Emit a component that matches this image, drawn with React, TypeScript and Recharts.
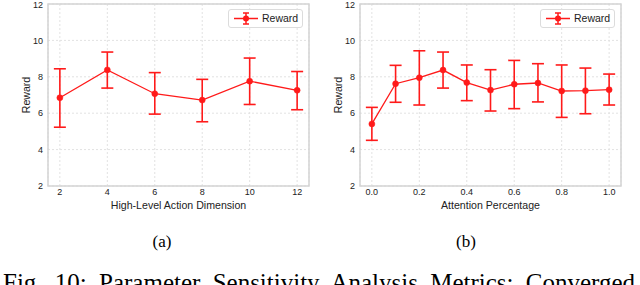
import React from 'react';
import {
  LineChart, Line, XAxis, YAxis, CartesianGrid, ErrorBar, ReferenceArea
} from 'recharts';

// (a) high-level action dimension
const dims = [2, 4, 6, 8, 10, 12];
const dimMean = [6.85, 8.38, 7.07, 6.72, 7.76, 7.26];
const dimLow = [5.23, 7.38, 5.95, 5.53, 6.48, 6.19];
const dimHigh = [8.44, 9.36, 8.23, 7.86, 9.03, 8.29];
const dimTicks = [2, 4, 6, 8, 10, 12];

// (b) attention percentage
const pcts = [0, 0.1, 0.2, 0.3, 0.4, 0.5, 0.6, 0.7, 0.8, 0.9, 1.0];
const pctMean = [5.41, 7.62, 7.95, 8.37, 7.68, 7.27, 7.59, 7.66, 7.22, 7.24, 7.29];
const pctLow = [4.51, 6.6, 6.45, 7.38, 6.69, 6.12, 6.25, 6.62, 5.77, 5.97, 6.45];
const pctHigh = [6.32, 8.63, 9.43, 9.36, 8.65, 8.39, 8.9, 8.72, 8.65, 8.48, 8.15];
const pctTicks = [0, 0.2, 0.4, 0.6, 0.8, 1.0];

const yTicks = [2, 4, 6, 8, 10, 12];

const RED = '#ff1a1a';
const FONT = '"Liberation Sans", Arial, sans-serif';
const SERIF = '"Liberation Serif", "Times New Roman", serif';

const build = (xs: number[], mean: number[], lo: number[], hi: number[]) =>
  xs.map((x, i) => ({ x, y: mean[i], err: [mean[i] - lo[i], hi[i] - mean[i]] }));

const LegendBox = ({ left, top }: { left: number; top: number }) => (
  <div style={{
    position: 'absolute', left, top, width: 73, height: 17,
    border: '1px solid #dcdcdc', borderRadius: 3, background: '#fff',
    fontFamily: FONT, fontSize: 10.5, color: '#222',
  }}>
    <svg width={26} height={17} style={{ position: 'absolute', left: 4, top: 0 }}>
      <line x1={1} y1={8.5} x2={25} y2={8.5} stroke={RED} strokeWidth={1.5} />
      <line x1={13} y1={3} x2={13} y2={14} stroke={RED} strokeWidth={1.5} />
      <line x1={10} y1={3} x2={16} y2={3} stroke={RED} strokeWidth={1.5} />
      <line x1={10} y1={14} x2={16} y2={14} stroke={RED} strokeWidth={1.5} />
      <circle cx={13} cy={8.5} r={3} fill={RED} />
    </svg>
    <span style={{ position: 'absolute', left: 33, top: 2 }}>Reward</span>
  </div>
);

interface PanelProps {
  data: { x: number; y: number; err: number[] }[];
  ticks: number[];
  domain: [number, number];
  xLabel: string;
  fmt: (v: number) => string;
  width: number;
  yAxisWidth: number;
  right: number;
}

const Panel = ({ data, ticks, domain, xLabel, fmt, width, yAxisWidth, right }: PanelProps) => (
  <LineChart width={width} height={212} data={data} margin={{ top: 4, right, left: 0, bottom: 0 }}>
    <CartesianGrid strokeDasharray="2 2" stroke="#e2e2e2" />
    <ReferenceArea x1={domain[0]} x2={domain[1]} y1={2} y2={12} fill="none"
      stroke="#d4d4d4" strokeWidth={1.5} ifOverflow="visible" />
    <XAxis
      dataKey="x" type="number" domain={domain} ticks={ticks} tickFormatter={fmt}
      axisLine={false} tickLine={false} tickSize={3} tickMargin={0} height={26}
      tick={{ fill: '#222', fontSize: 9, fontFamily: FONT }}
      label={{ value: xLabel, position: 'insideBottom', offset: 3, fill: '#222', fontSize: 10.6, fontFamily: FONT }}
    />
    <YAxis
      type="number" domain={[2, 12]} ticks={yTicks} width={yAxisWidth}
      axisLine={false} tickLine={false} tickSize={5} tickMargin={0}
      tick={{ fill: '#222', fontSize: 9, fontFamily: FONT }}
      label={{ value: 'Reward', angle: -90, position: 'center', dx: yAxisWidth === 48 ? 2 : 3, fill: '#222', fontSize: 10.6, fontFamily: FONT }}
    />
    <Line dataKey="y" stroke={RED} strokeWidth={1.3} isAnimationActive={false}
      dot={{ r: 3, fill: RED, stroke: RED, strokeWidth: 0.5 }}>
      <ErrorBar dataKey="err" direction="y" width={6} stroke={RED} strokeWidth={1.6} />
    </Line>
  </LineChart>
);

export default function App() {
  const dimData = build(dims, dimMean, dimLow, dimHigh);
  const pctData = build(pcts, pctMean, pctLow, pctHigh);
  return (
    <div style={{ position: 'absolute', left: 0, top: 0, width: 640, height: 285, overflow: 'hidden', background: '#fff' }}>
      <div style={{ position: 'absolute', left: 0, top: 0 }}>
        <Panel data={dimData} ticks={dimTicks} domain={[1.5, 12.5]} xLabel="High-Level Action Dimension"
          fmt={(v) => String(v)} width={320} yAxisWidth={48} right={11} />
        <LegendBox left={228} top={9} />
      </div>
      <div style={{ position: 'absolute', left: 310, top: 0 }}>
        <Panel data={pctData} ticks={pctTicks} domain={[-0.05, 1.05]} xLabel="Attention Percentage"
          fmt={(v) => v.toFixed(1)} width={330} yAxisWidth={50} right={19} />
        <LegendBox left={230} top={9} />
      </div>
      <div style={{ position: 'absolute', left: 142, top: 232, width: 40, textAlign: 'center', fontFamily: SERIF, fontSize: 17 }}>(a)</div>
      <div style={{ position: 'absolute', left: 446, top: 232, width: 40, textAlign: 'center', fontFamily: SERIF, fontSize: 17 }}>(b)</div>
      <div style={{
        position: 'absolute', left: 3, top: 270, lineHeight: 1, whiteSpace: 'nowrap',
        fontFamily: SERIF, fontSize: 25, wordSpacing: 6,
      }}>Fig. 10: Parameter Sensitivity Analysis Metrics: Converged</div>
    </div>
  );
}
